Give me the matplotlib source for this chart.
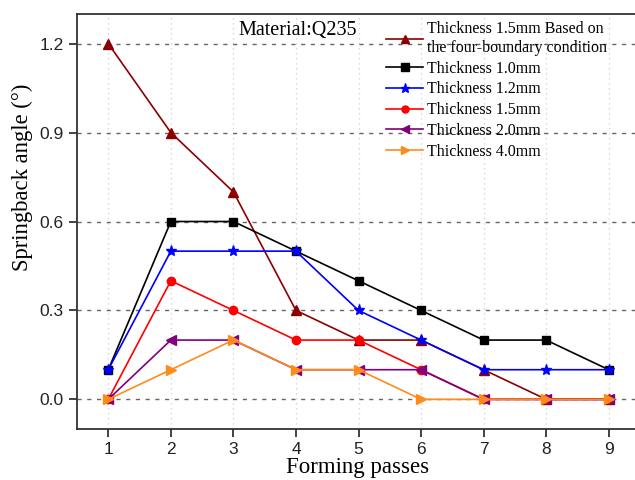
import matplotlib
matplotlib.use("Agg")
import matplotlib.pyplot as plt

passes = [1, 2, 3, 4, 5, 6, 7, 8, 9]
four_boundary_15 = [1.2, 0.9, 0.7, 0.3, 0.2, 0.2, 0.1, 0.0, 0.0]
t10 = [0.1, 0.6, 0.6, 0.5, 0.4, 0.3, 0.2, 0.2, 0.1]
t12 = [0.1, 0.5, 0.5, 0.5, 0.3, 0.2, 0.1, 0.1, 0.1]
t15 = [0.0, 0.4, 0.3, 0.2, 0.2, 0.1, 0.0, 0.0, 0.0]
t20 = [0.0, 0.2, 0.2, 0.1, 0.1, 0.1, 0.0, 0.0, 0.0]
t40 = [0.0, 0.1, 0.2, 0.1, 0.1, 0.0, 0.0, 0.0, 0.0]
labels = ["Thickness 1.5mm Based on\nthe four-boundary condition",
          "Thickness 1.0mm", "Thickness 1.2mm", "Thickness 1.5mm",
          "Thickness 2.0mm", "Thickness 4.0mm"]
yticks = [0.0, 0.3, 0.6, 0.9, 1.2]

serif = ["Liberation Serif", "DejaVu Serif"]
sans = ["Liberation Sans", "DejaVu Sans"]

fig = plt.figure(figsize=(6.35, 4.8), dpi=100)
ax = fig.add_axes([77/635, 1-429/480, (640-77)/635, (429-14)/480])

series = [
    (four_boundary_15, "#8B0000", "^", 7),
    (t10, "black", "s", 6),
    (t12, "blue", "*", 8),
    (t15, "red", "o", 6),
    (t20, "#800080", "<", 7),
    (t40, "#FF8C1A", ">", 7),
]
for (vals, c, m, ms), lab in zip(series, labels):
    ax.plot(passes, vals, color=c, marker=m, markersize=ms, linewidth=1.2,
            label=lab, clip_on=False, zorder=3)

ax.set_xlim(0.5, 9.5)
ax.set_ylim(-0.1, 1.3)
ax.set_xticks(passes)
ax.set_yticks(yticks)
ax.set_yticklabels([f"{v:.1f}" for v in yticks])
for lbl in ax.get_xticklabels() + ax.get_yticklabels():
    lbl.set_fontfamily(sans)
    lbl.set_fontsize(12.5)
ax.tick_params(direction="out", length=6, width=1.2, colors="#222222")
ax.spines["right"].set_visible(False)
for s in ["left", "bottom", "top"]:
    ax.spines[s].set_linewidth(1.3)
    ax.spines[s].set_color("#333333")

ax.yaxis.grid(True, linestyle=(0, (3, 4)), color="#666666", linewidth=1.0)
ax.xaxis.grid(True, linestyle=(0, (1, 3)), color="#cccccc", linewidth=0.9)
ax.set_axisbelow(True)

fig.text(358/635, 1-473/480, "Forming passes", fontfamily=serif, fontsize=16.5,
         ha="center", va="baseline")
fig.text(22/635, 1-177/480, "Springback angle (°)", fontfamily=serif,
         fontsize=16.3, ha="center", va="center", rotation=90)

fig.text(238/635, 1-30/480, "Material:Q235", fontfamily=serif, fontsize=14.5,
         va="center", ha="left")

leg = ax.legend(loc="upper left", bbox_to_anchor=(380/635, 1-15/480),
                bbox_transform=fig.transFigure, frameon=False,
                prop={"family": serif, "size": 11.5}, handlelength=2.3,
                handletextpad=0.25, labelspacing=0.3, borderaxespad=0,
                markerscale=0.85)

fig.savefig("out.png", dpi=100)
